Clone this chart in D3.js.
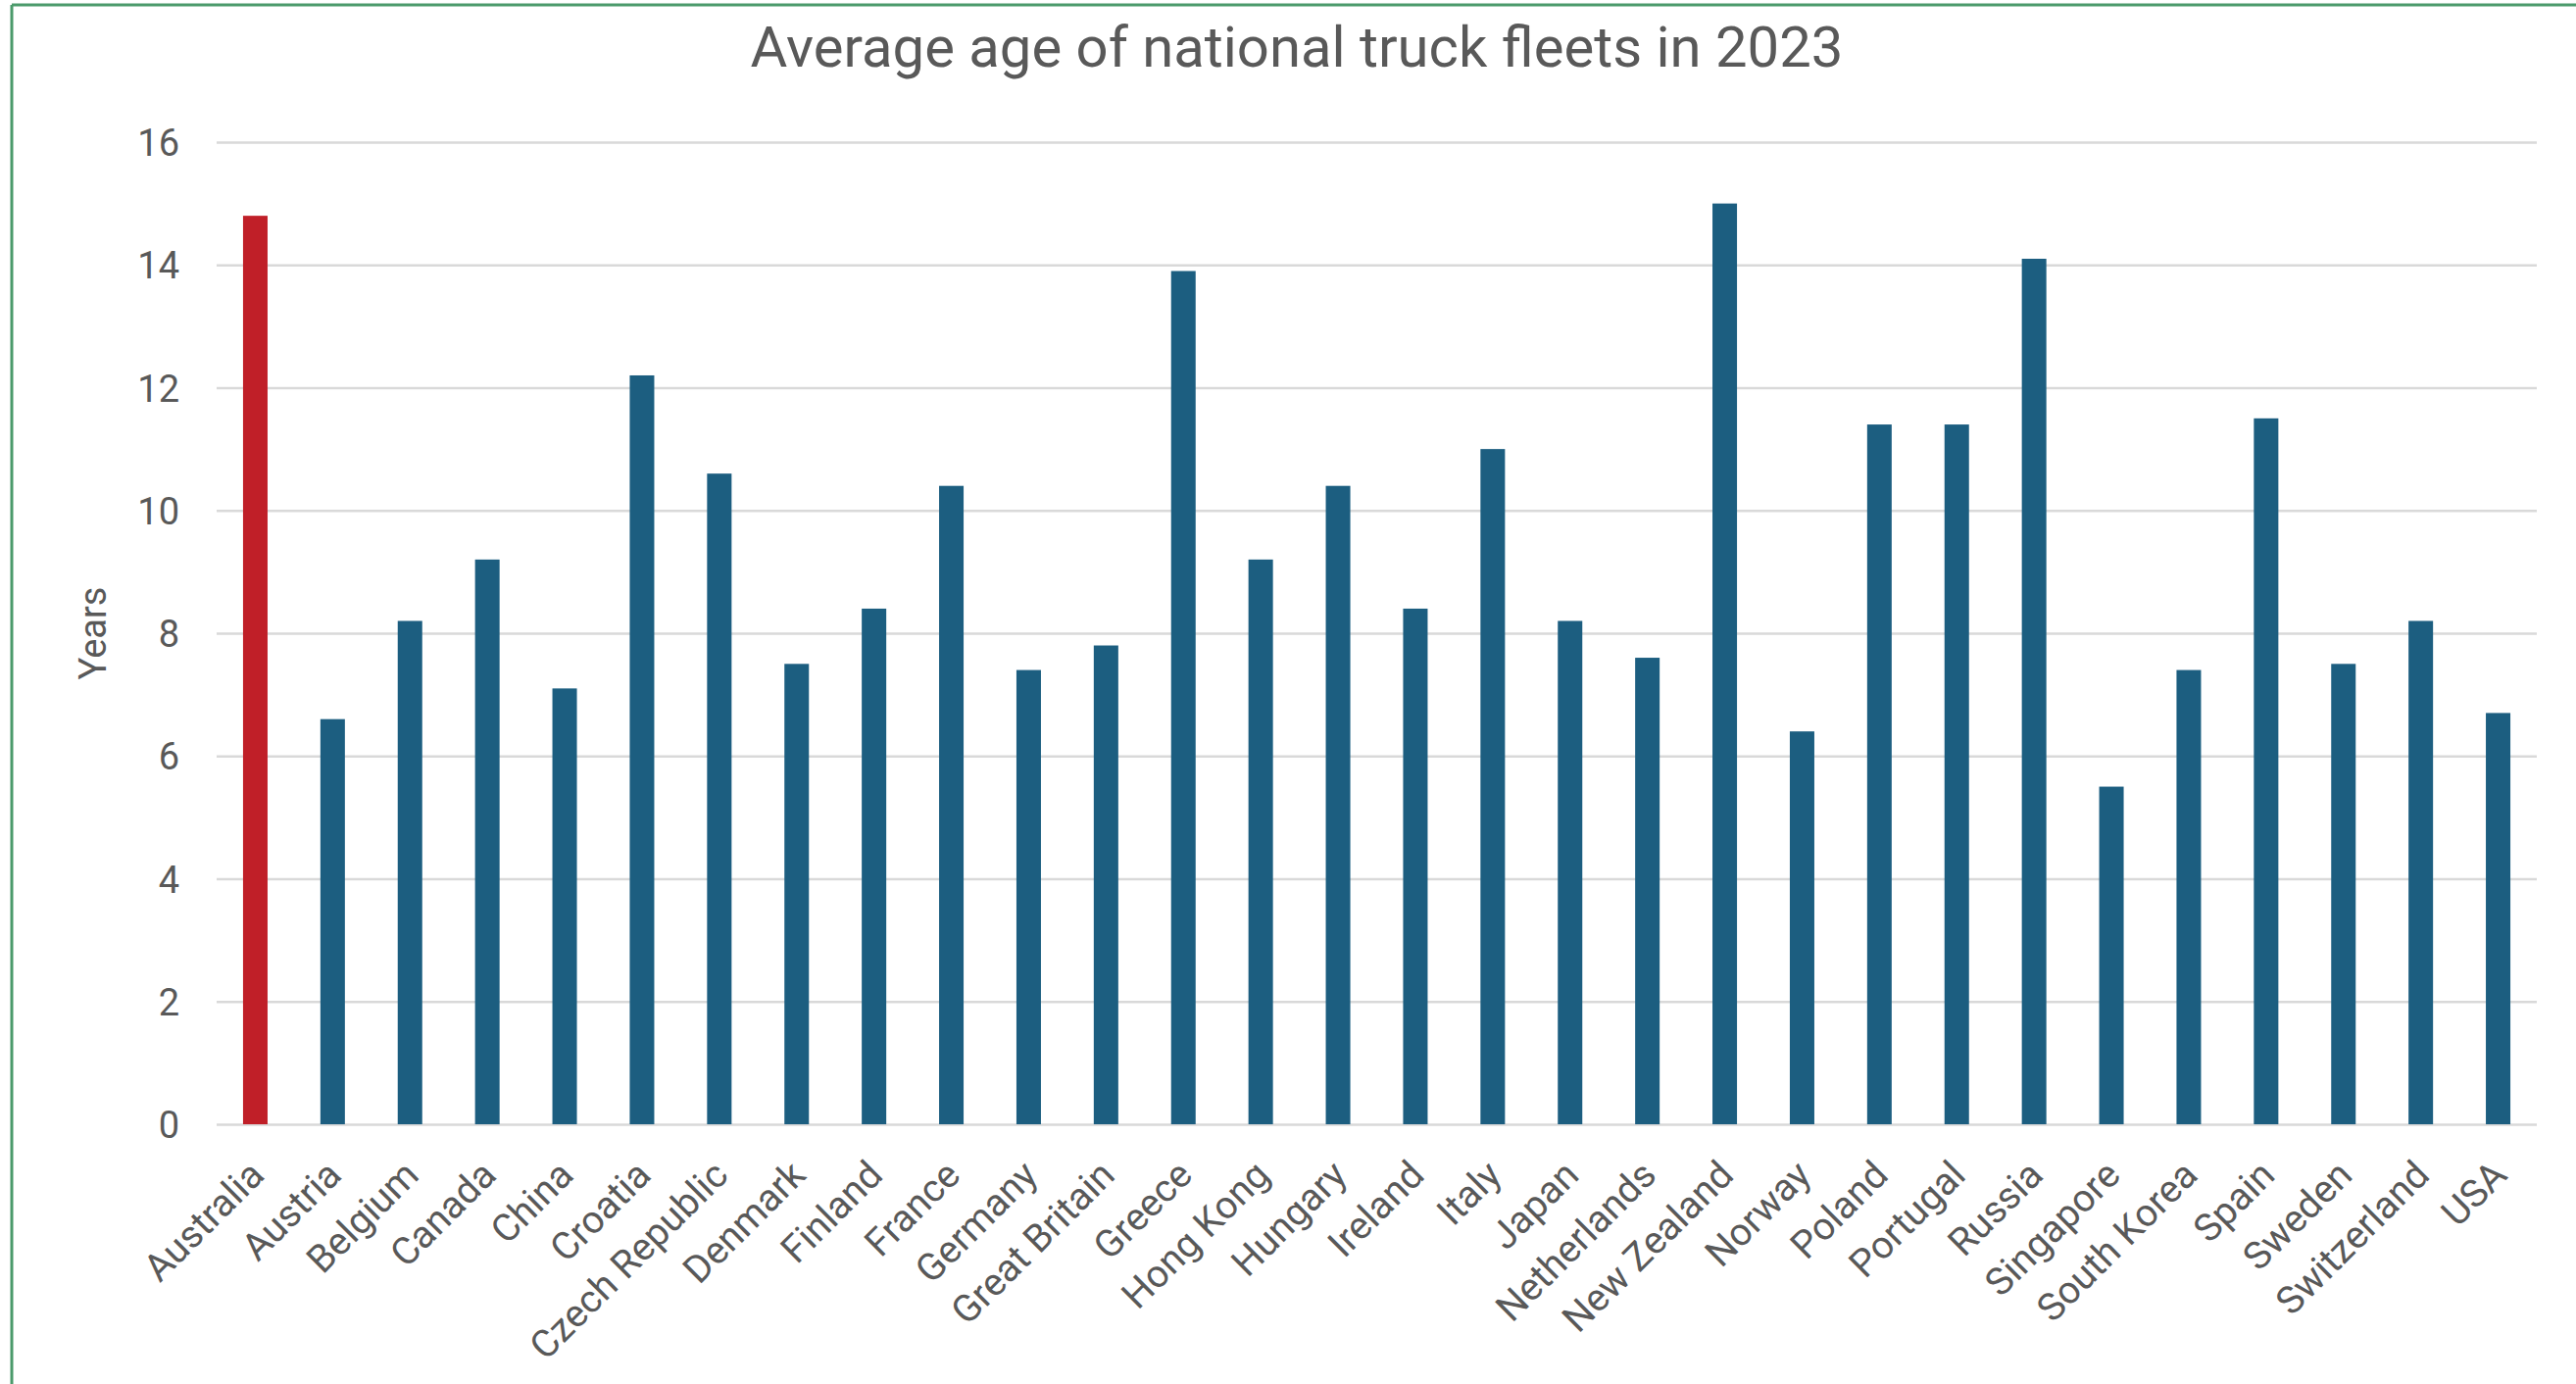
<!DOCTYPE html>
<html>
<head>
<meta charset="utf-8">
<script src="https://cdn.jsdelivr.net/npm/d3@7"></script>
<style>
  html, body { margin: 0; padding: 0; background: #ffffff; }
  svg { display: block; }
  text { font-family: Roboto, "Liberation Sans", sans-serif; }
</style>
</head>
<body>
<svg id="chart" width="2628" height="1412"></svg>
<script>
// Average age of national truck fleets (years), 2023
const countries = [
  "Australia", "Austria", "Belgium", "Canada", "China", "Croatia",
  "Czech Republic", "Denmark", "Finland", "France", "Germany",
  "Great Britain", "Greece", "Hong Kong", "Hungary", "Ireland", "Italy",
  "Japan", "Netherlands", "New Zealand", "Norway", "Poland", "Portugal",
  "Russia", "Singapore", "South Korea", "Spain", "Sweden", "Switzerland", "USA"
];
const averageAge = [
  14.8, 6.6, 8.2, 9.2, 7.1, 12.2,
  10.6, 7.5, 8.4, 10.4, 7.4,
  7.8, 13.9, 9.2, 10.4, 8.4, 11.0,
  8.2, 7.6, 15.0, 6.4, 11.4, 11.4,
  14.1, 5.5, 7.4, 11.5, 7.5, 8.2, 6.7
];
const yTicks = [0, 2, 4, 6, 8, 10, 12, 14, 16];
const highlighted = ["Australia"];

const chartTitle = "Average age of national truck fleets in 2023";
const yAxisTitle = "Years";

const data = countries.map((c, i) => ({ country: c, value: averageAge[i] }));

const svg = d3.select("#chart");
const W = 2628, H = 1412;
const plot = { left: 221, right: 2588, top: 145, bottom: 1147 };

// frame around the chart object
svg.append("line")
  .attr("x1", 12).attr("y1", 5).attr("x2", 12).attr("y2", H)
  .attr("stroke", "#4b9a6b").attr("stroke-width", 3);
svg.append("line")
  .attr("x1", 12).attr("y1", 5).attr("x2", W).attr("y2", 5)
  .attr("stroke", "#4b9a6b").attr("stroke-width", 3);

const x = d3.scaleBand()
  .domain(countries)
  .range([plot.left, plot.right])
  .paddingInner(0.683)
  .paddingOuter(0.683 / 2);

const y = d3.scaleLinear()
  .domain([0, 16])
  .range([plot.bottom, plot.top]);

// horizontal gridlines + value labels
const yAxis = d3.axisLeft(y)
  .tickValues(yTicks)
  .tickSize(-(plot.right - plot.left))
  .tickPadding(38)
  .tickFormat(d3.format("d"));

const gy = svg.append("g")
  .attr("transform", `translate(${plot.left},0)`)
  .call(yAxis);
gy.select(".domain").remove();
gy.selectAll(".tick line")
  .attr("stroke", "#d9d9d9")
  .attr("stroke-width", 2.5);
gy.selectAll(".tick text")
  .attr("fill", "#595959")
  .style("font-size", "38px")
  .attr("dy", "0.36em");

// bars
svg.append("g")
  .selectAll("rect")
  .data(data)
  .join("rect")
  .attr("x", d => x(d.country))
  .attr("width", x.bandwidth())
  .attr("y", d => y(d.value))
  .attr("height", d => y(0) - y(d.value))
  .attr("fill", d => highlighted.includes(d.country) ? "#c01f28" : "#1c5e80");

// category labels, rotated
const xAxis = d3.axisBottom(x).tickSize(0).tickPadding(0);
const gx = svg.append("g")
  .attr("transform", `translate(0,${plot.bottom})`)
  .call(xAxis);
gx.select(".domain").remove();
gx.selectAll(".tick text")
  .attr("fill", "#595959")
  .style("font-size", "39px")
  .attr("text-anchor", "end")
  .attr("dy", null)
  .attr("y", null)
  .attr("transform", "translate(11,54) rotate(-45)");

// titles
svg.append("text")
  .attr("x", 1323).attr("y", 68)
  .attr("text-anchor", "middle")
  .attr("fill", "#595959")
  .style("font-size", "58px")
  .text(chartTitle);

svg.append("text")
  .attr("transform", `translate(108,${(plot.top + plot.bottom) / 2}) rotate(-90)`)
  .attr("text-anchor", "middle")
  .attr("fill", "#595959")
  .style("font-size", "38px")
  .text(yAxisTitle);
</script>
</body>
</html>
